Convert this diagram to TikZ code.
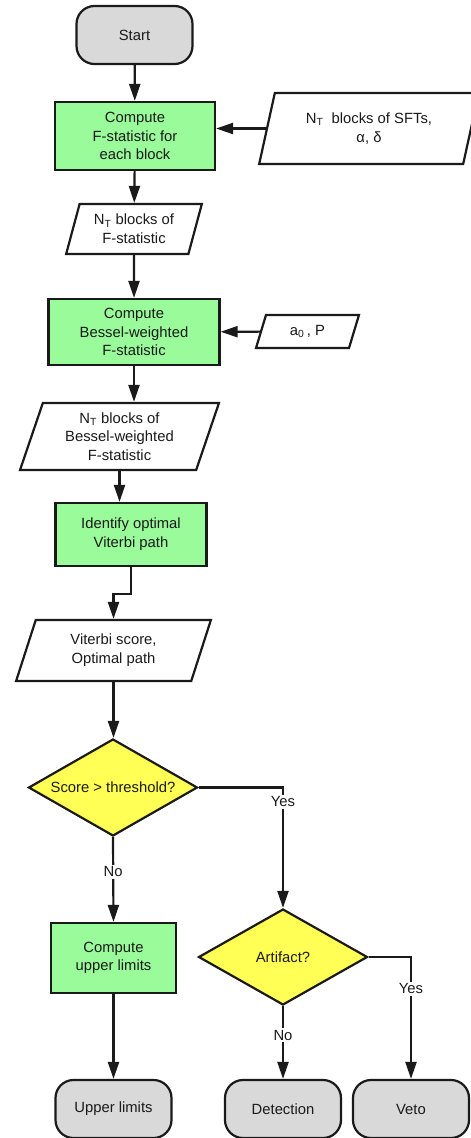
\documentclass[tikz,border=0pt]{standalone}
\usepackage{fontspec}
\setmainfont{Liberation Sans}
\usetikzlibrary{positioning,shapes,shapes.geometric,arrows.meta}
\definecolor{procgreen}{RGB}{153,251,153}
\definecolor{decyellow}{RGB}{255,255,85}
\definecolor{termgray}{RGB}{217,217,217}
\definecolor{linegray}{RGB}{26,26,26}
\newcommand{\flowfont}{\fontsize{14.8}{18.7}\selectfont}

\begin{document}
\begin{tikzpicture}[x=1pt, y=-1pt, line width=2.2pt, draw=linegray, text=linegray,
    term/.style={draw, fill=termgray, rounded corners=18pt, minimum width=116pt, minimum height=58pt, font=\flowfont},
    proc/.style={draw, fill=procgreen, align=center, inner sep=0pt, font=\flowfont},
    io/.style={draw, fill=white, trapezium, trapezium left angle=71.5, trapezium right angle=108.5,
        trapezium stretches=true, align=center, inner sep=0pt, font=\flowfont},
    dec/.style={draw, fill=decyellow, diamond, aspect=1.74, inner sep=0pt, minimum width=169pt, minimum height=97pt, font=\flowfont},
    flow/.style={-{Triangle[length=17pt,width=11pt]}},
    lab/.style={fill=white, inner sep=2pt, font=\flowfont}]
    \useasboundingbox (0,0) rectangle (471,1138);

    \node[term] (start) at (134.5,35) {Start};
    \node[proc, minimum width=160pt, minimum height=68pt] (fstat) at (135,136) {Compute\\F-statistic for\\each block};
    \node[io, minimum width=220pt, minimum height=71pt] (sfts) at (369,128.5) {N\textsubscript{T}\ \ blocks of SFTs,\\α, δ};
    \node[io, minimum width=136pt, minimum height=50pt] (fblocks) at (134,229) {N\textsubscript{T} blocks of\\F-statistic};
    \node[proc, minimum width=171pt, minimum height=66pt] (bessel) at (134,332) {Compute\\Bessel-weighted\\F-statistic};
    \node[io, minimum width=103pt, minimum height=33pt] (params) at (307.5,331.5) {a\textsubscript{0}\,, P};
    \node[io, minimum width=199pt, minimum height=67pt] (bblocks) at (119.5,436.5) {N\textsubscript{T} blocks of\\Bessel-weighted\\F-statistic};
    \node[proc, minimum width=151pt, minimum height=63pt] (viterbi) at (131,534.5) {Identify optimal\\Viterbi path};
    \node[io, minimum width=195pt, minimum height=61pt] (score) at (113.5,650.5) {Viterbi score,\\Optimal path};
    \node[dec] (thresh) at (113,787.5) {Score > threshold?};
    \node[proc, minimum width=125pt, minimum height=70pt] (limits) at (113.5,958) {Compute\\upper limits};
    \node[dec, minimum height=96pt] (artifact) at (283,957) {Artifact?};
    \node[term] (upper) at (113.5,1109) {Upper limits};
    \node[term] (detect) at (283,1109) {Detection};
    \node[term] (veto) at (411,1109) {Veto};

    \draw[flow] (start) -- (fstat);
    \draw[flow] (sfts.west) -- (sfts.west -| fstat.east);
    \draw[flow] (fstat) -- (fblocks);
    \draw[flow] (fblocks) -- (fblocks.south |- bessel.north);
    \draw[flow] (params) -- (bessel);
    \draw[flow] (bessel.south) -- (bessel.south |- bblocks.north);
    \draw[flow] (bblocks.south) -- (bblocks.south |- viterbi.north);
    \draw[flow] (viterbi.south) -- ++(0,27) -| (score.north);
    \draw[flow] (score.south) -- (score.south |- thresh.north);
    \draw[flow] (thresh.south) -- node[lab, pos=0.41] {No} (limits.north);
    \draw[flow] (thresh.east) -| node[lab, pos=0.56] {Yes} (artifact.north);
    \draw[flow] (limits) -- (upper);
    \draw[flow] (artifact.south) -- node[lab, pos=0.4] {No} (detect.north);
    \draw[flow] (artifact.east) -| node[lab, pos=0.63] {Yes} (veto.north);
\end{tikzpicture}
\end{document}
